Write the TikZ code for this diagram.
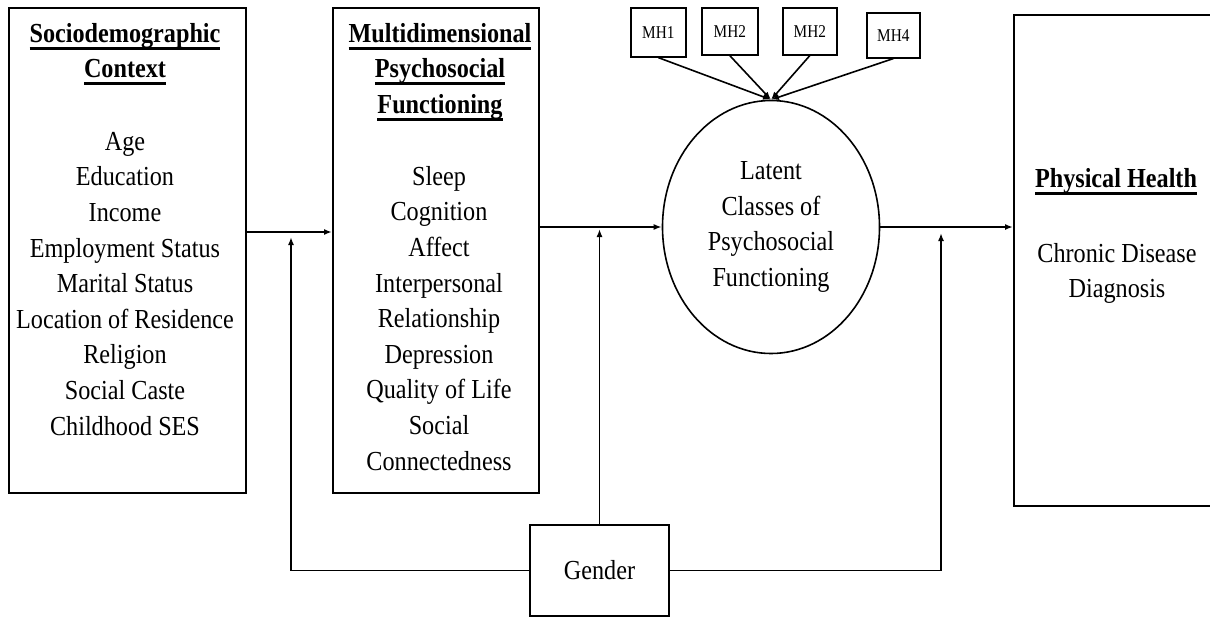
\documentclass[tikz,border=0pt]{standalone}
\usepackage{fontspec}
\setmainfont[FakeStretch=0.88]{Liberation Serif}
\usetikzlibrary{shapes.geometric,arrows.meta}
\newcommand{\bigf}{\fontsize{27.5}{35.6}\selectfont}
\newfontfamily\mhfam[FakeStretch=0.85]{Liberation Serif}
\newcommand{\mhf}{\mhfam\fontsize{18}{20}\selectfont}
\newcommand{\ulw}[1]{\leavevmode\setbox0\hbox{#1}\rlap{\vrule width\wd0 height -4.5pt depth 7.5pt}\box0}
\begin{document}
\begin{tikzpicture}[x=1pt,y=1pt,
  box/.style={draw, line width=1.6pt, inner sep=0pt, rectangle},
  txt/.style={font=\bigf, align=center, inner sep=0pt, anchor=north},
  arr/.style={line width=1.6pt, -{Latex[length=8pt,width=6pt]}}]
\useasboundingbox (0,0) rectangle (1210,-616);
\fill[white] (0,0) rectangle (1210,-616);

% boxes
\node[box, minimum width=237, minimum height=485, anchor=north west] (socio) at (8,-7) {};
\node[box, minimum width=206, minimum height=485, anchor=north west] (mpf) at (332,-7) {};
\node[box, minimum width=240, minimum height=491, anchor=north west] (phys) at (1013,-14) {};
\node[draw, ellipse, line width=1.6pt, minimum width=217, minimum height=253, inner sep=0pt,
      font=\bigf, align=center] (latent) at (771,-227) {Latent\\Classes of\\Psychosocial\\Functioning};
\node[box, minimum width=139, minimum height=91, font=\bigf] (gender) at (599.5,-570.5) {Gender};

\node[box, minimum width=55, minimum height=49, anchor=north west, font=\mhf] (mh1) at (630,-7) {MH1};
\node[box, minimum width=56, minimum height=47, anchor=north west, font=\mhf] (mh2a) at (701,-7) {MH2};
\node[box, minimum width=54, minimum height=47, anchor=north west, font=\mhf] (mh2b) at (782,-7) {MH2};
\node[box, minimum width=53, minimum height=45, anchor=north west, font=\mhf] (mh4) at (866,-12) {MH4};

% texts
\node[txt, font=\bigf\bfseries] (sochead) at (125,-17.08) {\strut\ulw{Sociodemographic}\\\ulw{Context}};
\node[txt] (socitems) at (125,-125.08) {\strut Age\\Education\\Income\\Employment Status\\Marital Status\\Location of Residence\\Religion\\Social Caste\\Childhood SES};
\node[txt, font=\bigf\bfseries] (mpfhead) at (440,-17.08) {\strut\ulw{Multidimensional}\\\ulw{Psychosocial}\\\ulw{Functioning}};
\node[txt] (mpfitems) at (439,-160.08) {\strut Sleep\\Cognition\\Affect\\Interpersonal\\Relationship\\Depression\\Quality of Life\\Social\\Connectedness};
\node[txt, font=\bigf\bfseries] (phhead) at (1116,-162) {\strut\ulw{Physical Health}};
\node[txt] (phitems) at (1117,-237) {\strut Chronic Disease\\Diagnosis};

% connectors
\coordinate (r1) at (0,-232);
\coordinate (r2) at (0,-227);
\coordinate (gl) at (291,-237);
\coordinate (gm) at (599.5,-229);
\coordinate (gr) at (941,-233);

\draw[arr] (socio.east |- r1) -- (mpf.west |- r1);
\draw[arr] (mpf.east |- r2) -- (latent.west);
\draw[arr] (latent.east) -- (phys.west |- latent.east);

\draw[arr] (mh1.south) -- (latent.north);
\draw[arr] (mh2a.south) -- (latent.north);
\draw[arr] (mh2b.south) -- (latent.north);
\draw[arr] (mh4.south) -- (latent.north);

\draw[arr] (gender.west) -| (gl);
\draw[arr] (gender.north) -- (gm);
\draw[arr] (gender.east) -| (gr);
\end{tikzpicture}
\end{document}
